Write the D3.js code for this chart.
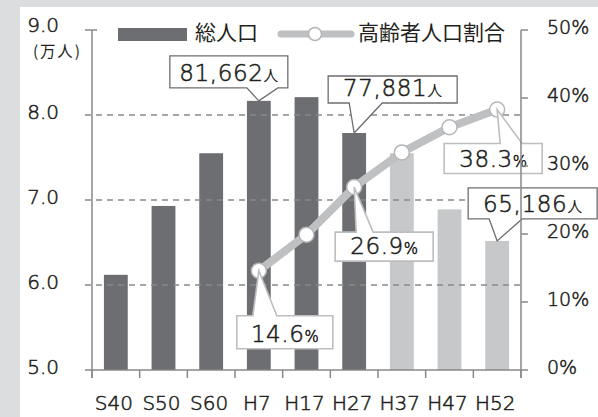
<!DOCTYPE html>
<meta charset="utf-8">
<style>
    body { margin: 0; background: #dcddde; }
    svg { display: block; }
    text { font-family: "DejaVu Sans", "Noto Sans CJK JP", sans-serif; font-weight: 300; fill: #231f20;
           stroke: #231f20; stroke-width: 0.55px; }
    .jp { font-family: "Noto Sans CJK JP", sans-serif; font-weight: 400; stroke: none; }
</style>
<script src="https://cdn.jsdelivr.net/npm/d3@7"></script>
<body>
<svg></svg>
</body>
<script>

    // data
    var categories = ["S40", "S50", "S60", "H7", "H17", "H27", "H37", "H47", "H52"];
    var population = [6.12, 6.93, 7.55, 8.1662, 8.21, 7.7881, 7.55, 6.89, 6.5186]; // 万人
    var projected = [false, false, false, false, false, false, true, true, true];
    var ratioCats = ["H7", "H17", "H27", "H37", "H47", "H52"];
    var ratio = [14.6, 19.9, 26.9, 32.0, 35.7, 38.3]; // %
    var leftTicks = [5, 6, 7, 8, 9];
    var rightTicks = [0, 10, 20, 30, 40, 50];

    // callouts: which point, the label, and the box placed relative to the tip
    var callouts = [
        {cat: "H7",  kind: "pop",   num: "81,662", unit: "人", box: [-89, 29, -45, -13], base: [-12, 19]},
        {cat: "H27", kind: "pop",   num: "77,881", unit: "人", box: [-26, 103, -57, -30], base: [-5, 28]},
        {cat: "H52", kind: "pop",   num: "65,186", unit: "人", box: [-29, 100, -53, -22], base: [-8, 25]},
        {cat: "H7",  kind: "ratio", num: "14.6",   unit: "%",  box: [-22, 74, 45, 78], base: [-6, 18]},
        {cat: "H27", kind: "ratio", num: "26.9",   unit: "%",  box: [-19, 79, 45, 74], base: [2, 19]},
        {cat: "H52", kind: "ratio", num: "38.3",   unit: "%",  box: [-53, 45, 34, 64], base: [3, 25]}
    ];

    var W = 598, H = 417;
    var dark = "#6d6e71", light = "#c7c8ca", lineCol = "#bfc0c2", axisCol = "#88898b";

    var svg = d3.select("svg").attr("width", W).attr("height", H);

    svg.append("rect")
        .attr("x", 20).attr("y", 7).attr("width", W - 20).attr("height", H - 7)
        .attr("fill", "#fff");

    var x = d3.scaleBand().domain(categories).range([92, 521]).paddingInner(0.5).paddingOuter(0.25);
    var yL = d3.scaleLinear().domain([5, 9]).range([370, 30]);
    var yR = d3.scaleLinear().domain([0, 50]).range([370, 30]);
    var cx = function (c) { return x(c) + x.bandwidth() / 2; };

    // bars
    svg.append("g").selectAll("rect")
        .data(population)
        .join("rect")
        .attr("x", function (d, i) { return x(categories[i]); })
        .attr("y", function (d) { return yL(d); })
        .attr("width", x.bandwidth())
        .attr("height", function (d) { return yL(5) - yL(d); })
        .attr("fill", function (d, i) { return projected[i] ? light : dark; });

    // dashed grid
    svg.append("g").selectAll("line")
        .data([6, 7, 8])
        .join("line")
        .attr("x1", 85).attr("x2", 521)
        .attr("y1", function (d) { return yL(d); })
        .attr("y2", function (d) { return yL(d); })
        .attr("stroke", axisCol).attr("stroke-width", 1.5)
        .attr("stroke-dasharray", "6,5");

    // left axis
    var ax = svg.append("g");
    ax.append("line").attr("x1", 92).attr("x2", 92).attr("y1", yL(9)).attr("y2", 378)
        .attr("stroke", axisCol).attr("stroke-width", 1.5);
    ax.append("line").attr("x1", 85).attr("x2", 97).attr("y1", yL(9)).attr("y2", yL(9))
        .attr("stroke", axisCol).attr("stroke-width", 1.5);
    ax.append("line").attr("x1", 85).attr("x2", 521).attr("y1", yL(5)).attr("y2", yL(5))
        .attr("stroke", axisCol).attr("stroke-width", 1.5);
    ax.selectAll("text.tl")
        .data(leftTicks)
        .join("text")
        .attr("class", "tl")
        .attr("x", 59)
        .attr("y", function (d) { return yL(d) + (d === 9 ? 2 : 4); })
        .attr("text-anchor", "end")
        .attr("font-size", 20)
        .text(function (d) { return d3.format(".1f")(d); });
    ax.append("text").attr("class", "jp")
        .attr("x", 33).attr("y", 57).attr("font-size", 15.5).attr("letter-spacing", 1.8)
        .text("(万人)");

    // x ticks + labels
    var bounds = d3.range(categories.length + 1).map(function (i) { return 92 + i * x.step(); });
    ax.selectAll("line.xt")
        .data(bounds)
        .join("line")
        .attr("class", "xt")
        .attr("x1", function (d) { return d; }).attr("x2", function (d) { return d; })
        .attr("y1", 370).attr("y2", 378)
        .attr("stroke", axisCol).attr("stroke-width", 1.5);
    ax.selectAll("text.xl")
        .data(categories)
        .join("text")
        .attr("class", "xl")
        .attr("x", function (d) { return cx(d) - 2; })
        .attr("y", 410)
        .attr("text-anchor", "middle")
        .attr("font-size", 20)
        .text(function (d) { return d; });

    // ratio line
    var pts = ratio.map(function (d, i) { return [cx(ratioCats[i]), yR(d)]; });
    svg.append("path")
        .attr("d", d3.line()(pts))
        .attr("fill", "none")
        .attr("stroke", lineCol).attr("stroke-width", 8)
        .attr("stroke-linejoin", "round");
    svg.append("g").selectAll("circle")
        .data(pts)
        .join("circle")
        .attr("cx", function (d) { return d[0]; })
        .attr("cy", function (d) { return d[1]; })
        .attr("r", 7.5)
        .attr("fill", "#fff")
        .attr("stroke", "#b5b6b8").attr("stroke-width", 1.5);

    // callouts
    callouts.forEach(function (c) {
        var tx = cx(c.cat), ty;
        if (c.kind === "pop") {
            ty = yL(population[categories.indexOf(c.cat)]);
        } else {
            ty = yR(ratio[ratioCats.indexOf(c.cat)]);
        }
        var l = tx + c.box[0], r = tx + c.box[1], t = ty + c.box[2], b = ty + c.box[3];
        var b0 = tx + c.base[0], b1 = tx + c.base[1];
        var p;
        if (c.box[3] < 0) {
            // box above the tip
            p = [[l, t], [r, t], [r, b], [b1, b], [tx, ty], [b0, b], [l, b]];
        } else {
            p = [[l, t], [b0, t], [tx, ty], [b1, t], [r, t], [r, b], [l, b]];
        }
        var g = svg.append("g");
        g.append("path")
            .attr("d", d3.line()(p) + "Z")
            .attr("fill", "#fff")
            .attr("stroke", c.kind === "pop" ? dark : "#bdbec0")
            .attr("stroke-width", c.kind === "pop" ? 1.3 : 1.6);
        var tt = g.append("text")
            .attr("x", (l + r) / 2)
            .attr("y", b - 7)
            .attr("text-anchor", "middle");
        tt.append("tspan").attr("font-size", 23).attr("letter-spacing", 0.6).text(c.num);
        tt.append("tspan").attr("font-size", 15).attr("class", c.unit === "人" ? "jp" : null).text(c.unit);
    });

    // right axis on top
    var ar = svg.append("g");
    ar.append("line").attr("x1", 521).attr("x2", 521).attr("y1", yR(50)).attr("y2", 378)
        .attr("stroke", axisCol).attr("stroke-width", 1.5);
    ar.selectAll("line.rt")
        .data(rightTicks)
        .join("line")
        .attr("class", "rt")
        .attr("x1", 521).attr("x2", 528)
        .attr("y1", function (d) { return yR(d); })
        .attr("y2", function (d) { return yR(d); })
        .attr("stroke", axisCol).attr("stroke-width", 1.5);
    ar.selectAll("text")
        .data(rightTicks)
        .join("text")
        .attr("x", 547)
        .attr("y", function (d) { return yR(d) + 4; })
        .attr("font-size", 19)
        .text(function (d) { return d + "%"; });

    // legend
    var lg = svg.append("g");
    lg.append("rect").attr("x", 118).attr("y", 28).attr("width", 69).attr("height", 13).attr("fill", dark);
    lg.append("text").attr("class", "jp").attr("x", 195).attr("y", 40).attr("font-size", 21).text("総人口");
    lg.append("line").attr("x1", 281).attr("x2", 351).attr("y1", 34).attr("y2", 34)
        .attr("stroke", lineCol).attr("stroke-width", 7).attr("stroke-linecap", "round");
    lg.append("circle").attr("cx", 315).attr("cy", 34).attr("r", 6.5)
        .attr("fill", "#fff").attr("stroke", "#b5b6b8").attr("stroke-width", 1.5);
    lg.append("text").attr("class", "jp").attr("x", 358).attr("y", 40).attr("font-size", 21).text("高齢者人口割合");

</script>
